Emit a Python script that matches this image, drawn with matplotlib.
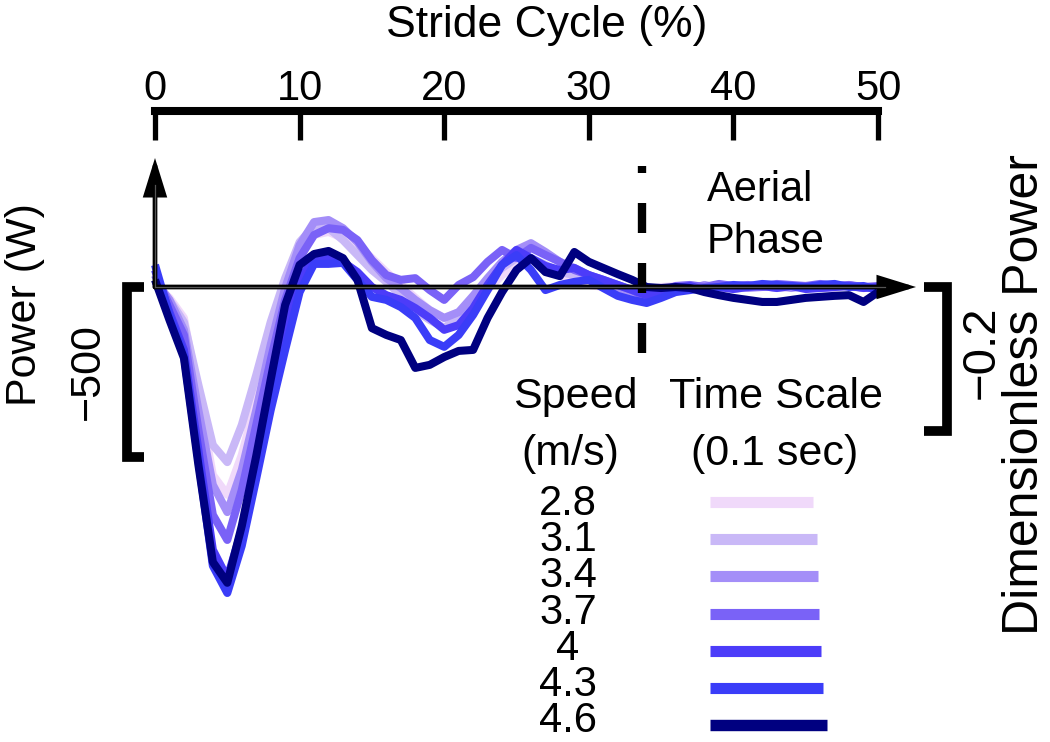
import matplotlib
matplotlib.use("Agg")
import matplotlib.pyplot as plt
from matplotlib.patches import FancyArrowPatch
import numpy as np

plt.rcParams['font.family'] = ['Liberation Sans', 'DejaVu Sans']

# ---------------- data ----------------
stride_pct = np.arange(0, 51)  # % of stride cycle

speeds = ['2.8', '3.1', '3.4', '3.7', '4', '4.3', '4.6']
colors = ['#F0D9FA', '#C9B8F7', '#A48EF8', '#7A62F7', '#4C3CF9', '#3A3DF8', '#000080']

power_2_8 = [6, -32, -91, -317, -553, -611, -494, -332, -156, 6, 109, 153, 162, 144, 123, 85, 44, 6, -32, -68,
             -91, -74, -44, -9, 35, 65, 79, 56, 35, 21, 6, 0, -9, -15, -9, 0, 3, -3, 0, 3,
             -3, 0, 3, -3, 0, 3, 0, -3, 3, 0, 0]
power_3_1 = [15, -38, -103, -288, -465, -515, -406, -259, -103, 26, 132, 179, 173, 138, 94, 50, 15, -24, -68, -97,
             -120, -91, -38, 15, 56, 85, 85, 65, 44, 35, 21, 6, -9, -18, -15, -6, 0, 3, -3, 0,
             -6, 0, 3, -3, 0, 3, -3, 0, 3, -3, 0]
power_3_4 = [21, -38, -126, -362, -582, -662, -538, -362, -170, -3, 123, 191, 197, 173, 132, 74, 26, -3, -38, -68,
             -91, -74, -26, 26, 74, 109, 129, 103, 74, 56, 35, 15, -3, -15, -26, -9, 0, -6, 6, -3,
             3, -3, 0, 6, -3, 3, -3, 0, 6, -3, 0]
power_3_7 = [35, -53, -141, -420, -670, -744, -597, -406, -215, -38, 85, 153, 173, 168, 138, 79, 35, 21, 26, -9,
             -38, 6, 29, 74, 109, 85, 115, 94, 74, 50, 35, 21, 6, -9, -32, -15, 3, 6, 0, 9,
             3, 6, 0, 9, 6, 3, 9, 3, 6, 0, 3]
power_4_0 = [50, -74, -185, -479, -773, -856, -714, -523, -317, -126, 21, 85, 85, 74, 44, 0, -24, -38, -62, -91,
             -126, -112, -62, 6, 65, 109, 85, 62, 50, 56, 35, 21, 6, -9, -24, -9, -3, 3, -9, 0,
             -6, 0, 3, -3, 3, -6, -3, 0, 3, -3, 0]
power_4_3 = [65, -82, -200, -509, -820, -900, -761, -564, -362, -185, -15, 68, 68, 71, 21, -29, -38, -59, -91, -156,
             -176, -141, -82, -9, 65, 94, 50, -9, 6, 15, 21, -3, -26, -38, -47, -32, -15, -9, -3, 0,
             6, 3, 9, 6, 3, 0, 6, 9, 0, 3, -9]
power_4_6 = [21, -97, -209, -523, -809, -870, -703, -497, -273, -53, 65, 97, 106, 85, 21, -121, -141, -156, -238, -229,
             -206, -188, -185, -91, -15, 50, 85, 44, 32, 103, 74, 56, 38, 21, 0, -3, 0, -3, -15, -24,
             -32, -38, -44, -44, -38, -32, -29, -26, -24, -44, -15]

series = [power_2_8, power_3_1, power_3_4, power_3_7, power_4_0, power_4_3, power_4_6]

timescale_pct = [7.12, 7.40, 7.47, 7.54, 7.68, 7.81, 8.09]  # 0.1 s expressed in % stride
top_ticks = [0, 10, 20, 30, 40, 50]
aerial_start_pct = 33.7
power_scale_W = -500
dimless_scale = -0.2

# ---------------- layout (pixel mapping) ----------------
W_PX, H_PX = 1050, 742
X0, XS = 155.0, 14.46      # px of 0 %, px per %
Y0, YS = 287.0, 0.34       # px of 0 W, px per W
YS2 = 720.0                # px per dimensionless unit

fig = plt.figure(figsize=(W_PX / 100, H_PX / 100), dpi=100)
ax = fig.add_axes([0, 0, 1, 1])
ax.set_axis_off()
ax.set_xlim(-X0 / XS, (W_PX - X0) / XS)
ax.set_ylim(-(H_PX - Y0) / YS, Y0 / YS)

ax2 = ax.twinx()
ax2.set_axis_off()
ax2.set_ylim(-(H_PX - Y0) / YS2, Y0 / YS2)


def dx(px):
    return (px - X0) / XS


def dy(py):
    return (Y0 - py) / YS


def fx(px):
    return px / W_PX


def fy(py):
    return 1 - py / H_PX


# ---------------- curves ----------------
for vals, c in zip(series, colors):
    ax.plot(stride_pct, vals, color=c, lw=5.8, solid_joinstyle='round',
            solid_capstyle='butt', zorder=3)

# ---------------- axes arrows ----------------
for start, end in [((0, 0), (0, dy(158))), ((0, 0), (dx(916), 0))]:
    arr = FancyArrowPatch(start, end, arrowstyle='-|>,head_length=21,head_width=6.5',
                          mutation_scale=1, lw=3.4, color='black', shrinkA=0, shrinkB=0,
                          zorder=6, joinstyle='miter')
    ax.add_patch(arr)
ax.plot([0, 0], [0, dy(185)], color='#555555', lw=0.9, zorder=7)
ax.plot([0, dx(885)], [0, 0], color='#555555', lw=0.9, zorder=7)

# ---------------- aerial phase marker ----------------
ax.plot([aerial_start_pct, aerial_start_pct], [dy(353), dy(166)], color='black', lw=6,
        ls=(0, (3.6, 3.6)), dash_capstyle='butt', zorder=5)
fig.text(fx(707), fy(201), 'Aerial', fontsize=30, ha='left', va='baseline')
fig.text(fx(707), fy(253), 'Phase', fontsize=30, ha='left', va='baseline')

# ---------------- top stride axis ----------------
y_axis_top = dy(111)
y_tick_bot = dy(140)
ax.plot([top_ticks[0], top_ticks[-1]], [y_axis_top, y_axis_top], color='black', lw=5.8,
        solid_capstyle='projecting', zorder=5)
for t in top_ticks:
    ax.plot([t, t], [y_axis_top, y_tick_bot], color='black', lw=3.8, solid_capstyle='butt', zorder=5)
    ax.text(t, dy(100), str(t), fontsize=30, ha='center', va='baseline')
fig.text(fx(547), fy(37), 'Stride Cycle (%)', fontsize=32, ha='center', va='baseline')

# ---------------- scale brackets ----------------
ax.plot([dx(144), dx(127), dx(127), dx(144)], [0, 0, power_scale_W, power_scale_W],
        color='black', lw=7, solid_joinstyle='miter', solid_capstyle='butt', zorder=5)
ax2.plot([dx(924), dx(947), dx(947), dx(924)], [0, 0, dimless_scale, dimless_scale],
         color='black', lw=7, solid_joinstyle='miter', solid_capstyle='butt', zorder=5)

fig.text(fx(25), fy(305), 'Power (W)', fontsize=31, rotation=90, ha='center', va='center')
fig.text(fx(88), fy(372), '\u2212500', fontsize=31, rotation=90, ha='center', va='center')
fig.text(fx(982), fy(352), '\u22120.2', fontsize=34, rotation=90, ha='center', va='center')
fig.text(fx(1025), fy(395), 'Dimensionless Power', fontsize=36, rotation=90, ha='center', va='center')

# ---------------- legend ----------------
fig.text(fx(575), fy(408), 'Speed', fontsize=31, ha='center', va='baseline')
fig.text(fx(570), fy(465), '(m/s)', fontsize=31, ha='center', va='baseline')
fig.text(fx(776), fy(408), 'Time Scale', fontsize=31, ha='center', va='baseline')
fig.text(fx(775), fy(465), '(0.1 sec)', fontsize=31, ha='center', va='baseline')

bar_start = dx(710)
for i, (sp, c, ts) in enumerate(zip(speeds, colors, timescale_pct)):
    y_px = 502 + 37.2 * i
    txt_y = 500 + 36.2 * i
    fig.text(fx(568), fy(txt_y + 15), sp, fontsize=30, ha='center', va='baseline')
    ax.plot([bar_start, bar_start + ts], [dy(y_px), dy(y_px)], color=c,
            lw=8.2 if i == 6 else 8, solid_capstyle='butt')

fig.savefig('out.png', dpi=100)
